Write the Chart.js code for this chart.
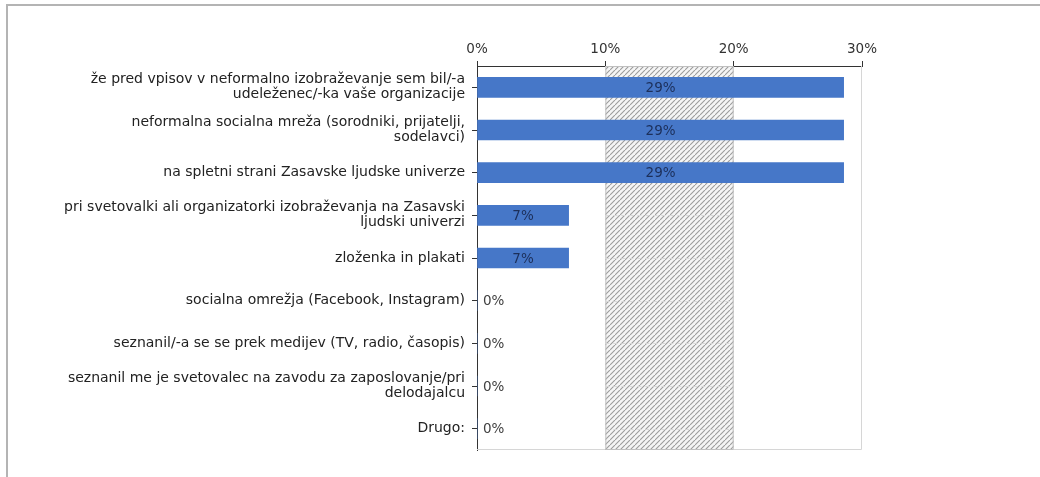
<!DOCTYPE html>
<html>
<head>
<meta charset="utf-8">
<script src="https://cdn.jsdelivr.net/npm/chart.js@4/dist/chart.umd.min.js"></script>
<style>
  html, body { margin: 0; padding: 0; background: #fff; }
  #wrap { position: relative; width: 1040px; height: 477px; }
  #frame { position: absolute; left: 6px; top: 4px; right: 0; bottom: 0; border-top: 2px solid #b4b4b4; border-left: 2px solid #b4b4b4; pointer-events: none; }
  canvas { position: absolute; left: 0; top: 0; }
</style>
</head>
<body>
<div id="wrap">
  <canvas id="c" width="1040" height="477"></canvas>
  <div id="frame"></div>
</div>
<script>
const categories = [
  ["že pred vpisov v neformalno izobraževanje sem bil/-a", "udeleženec/-ka vaše organizacije"],
  ["neformalna socialna mreža (sorodniki, prijatelji,", "sodelavci)"],
  "na spletni strani Zasavske ljudske univerze",
  ["pri svetovalki ali organizatorki izobraževanja na Zasavski", "ljudski univerzi"],
  "zloženka in plakati",
  "socialna omrežja (Facebook, Instagram)",
  "seznanil/-a se se prek medijev (TV, radio, časopis)",
  ["seznanil me je svetovalec na zavodu za zaposlovanje/pri", "delodajalcu"],
  "Drugo:"
];
const values = [28.57, 28.57, 28.57, 7.14, 7.14, 0, 0, 0, 0];
const valueLabels = ["29%", "29%", "29%", "7%", "7%", "0%", "0%", "0%", "0%"];
const xTicks = [0, 10, 20, 30];
const bandRange = [10, 20];

const FONT = "DejaVu Sans, Verdana, sans-serif";

function makePattern(ctx) {
  const s = 5;
  const pc = document.createElement('canvas');
  pc.width = s; pc.height = s;
  const p = pc.getContext('2d');
  p.fillStyle = '#f5f5f5';
  p.fillRect(0, 0, s, s);
  p.strokeStyle = '#9c9c9c';
  p.lineWidth = 1.1;
  p.beginPath();
  p.moveTo(0, s); p.lineTo(s, 0);
  p.moveTo(-s, s); p.lineTo(0, 0);
  p.moveTo(s, 2 * s); p.lineTo(2 * s, s);
  p.stroke();
  return ctx.createPattern(pc, 'repeat');
}

const bandPlugin = {
  id: 'band',
  beforeDatasetsDraw(chart) {
    const ctx = chart.ctx;
    const area = chart.chartArea;
    const x = chart.scales.x, y = chart.scales.y;
    ctx.save();
    ctx.strokeStyle = '#d6d6d6';
    ctx.lineWidth = 1;
    ctx.beginPath();
    ctx.moveTo(area.right - 0.5, area.top);
    ctx.lineTo(area.right - 0.5, area.bottom - 0.5);
    ctx.lineTo(area.left, area.bottom - 0.5);
    ctx.stroke();
    const x0 = x.getPixelForValue(bandRange[0]);
    const x1 = x.getPixelForValue(bandRange[1]);
    ctx.fillStyle = makePattern(ctx);
    ctx.fillRect(x0, area.top, x1 - x0, area.bottom - area.top);
    ctx.strokeStyle = '#c0c0c0';
    ctx.strokeRect(x0 + 0.5, area.top + 0.5, x1 - x0 - 1, area.bottom - area.top - 1);
    ctx.strokeStyle = 'rgba(215,215,215,0.9)';
    ctx.setLineDash([4, 4]);
    ctx.lineWidth = 1;
    for (let i = 0; i < categories.length; i++) {
      const yy = Math.round(y.getPixelForValue(i)) + 0.5;
      ctx.beginPath();
      ctx.moveTo(x0, yy);
      ctx.lineTo(x1, yy);
      ctx.stroke();
    }
    ctx.restore();
  }
};

const labelPlugin = {
  id: 'vlabels',
  afterDatasetsDraw(chart) {
    const ctx = chart.ctx;
    const meta = chart.getDatasetMeta(0);
    ctx.save();
    ctx.font = '13.5px ' + FONT;
    ctx.textBaseline = 'middle';
    meta.data.forEach((bar, i) => {
      const v = values[i];
      if (v > 0) {
        ctx.fillStyle = '#1c2f5a';
        ctx.textAlign = 'center';
        ctx.fillText(valueLabels[i], (bar.base + bar.x) / 2, bar.y + 1);
      } else {
        ctx.fillStyle = '#404040';
        ctx.textAlign = 'left';
        ctx.fillText(valueLabels[i], bar.base + 6, bar.y + 1);
      }
    });
    ctx.restore();
  }
};

new Chart(document.getElementById('c'), {
  type: 'bar',
  data: {
    labels: categories,
    datasets: [{
      data: values,
      backgroundColor: '#4677C8',
      borderWidth: 0,
      barThickness: 20
    }]
  },
  options: {
    indexAxis: 'y',
    responsive: false,
    animation: false,
    events: [],
    layout: { padding: { top: 20, right: 178, bottom: 27, left: 0 } },
    plugins: { legend: { display: false }, tooltip: { enabled: false } },
    scales: {
      x: {
        position: 'top',
        min: 0, max: 30,
        afterBuildTicks(scale) { scale.ticks = xTicks.map(v => ({ value: v })); },
        afterFit(scale) { scale.height = 46; },
        ticks: {
          callback: v => v + '%',
          color: '#333',
          font: { family: FONT, size: 13.5 },
          padding: 3,
          maxRotation: 0
        },
        grid: { drawOnChartArea: false, drawTicks: true, tickLength: 5, color: '#333', lineWidth: 1 },
        border: { display: true, color: '#333', width: 1 }
      },
      y: {
        afterFit(scale) { scale.width = 477; },
        ticks: {
          color: '#222',
          font: { family: FONT, size: 14, lineHeight: 1.07 },
          padding: 7,
          autoSkip: false
        },
        grid: { offset: false, drawOnChartArea: false, drawTicks: true, tickLength: 5, color: '#333', lineWidth: 1 },
        border: { display: true, color: '#333', width: 1 }
      }
    }
  },
  plugins: [bandPlugin, labelPlugin]
});
</script>
</body>
</html>
